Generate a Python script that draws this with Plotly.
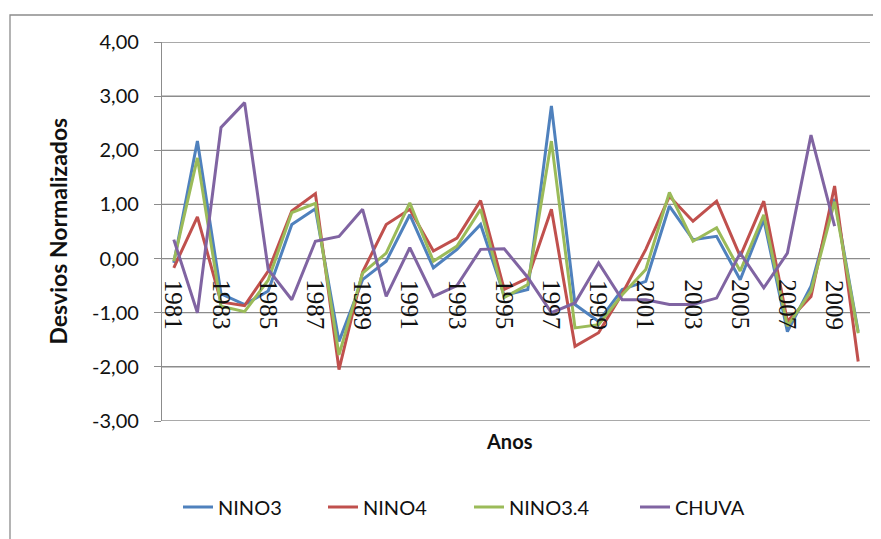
import plotly.graph_objects as go

years = list(range(1981, 2011))
nino3 = [-0.08, 2.17, -0.65, -0.85, -0.60, 0.63, 0.92, -1.53, -0.39, -0.05,
         0.81, -0.17, 0.17, 0.63, -0.68, -0.57, 2.82, -0.85, -1.16, -0.57,
         -0.42, 0.97, 0.35, 0.41, -0.39, 0.72, -1.35, -0.51, 1.10, -1.35]
nino4 = [-0.17, 0.77, -0.80, -0.87, -0.23, 0.88, 1.20, -2.05, -0.25, 0.63,
         0.91, 0.14, 0.38, 1.07, -0.57, -0.36, 0.91, -1.62, -1.37, -0.65,
         0.17, 1.15, 0.69, 1.06, 0.04, 1.06, -1.16, -0.70, 1.34, -1.90]
nino34 = [-0.05, 1.86, -0.88, -0.98, -0.40, 0.85, 1.02, -1.78, -0.27, 0.10,
          1.03, -0.05, 0.23, 0.91, -0.72, -0.48, 2.17, -1.28, -1.22, -0.67,
          -0.20, 1.22, 0.32, 0.57, -0.23, 0.81, -1.25, -0.60, 1.05, -1.38]
chuva = [0.35, -1.00, 2.42, 2.88, -0.20, -0.76, 0.32, 0.41, 0.91, -0.70,
         0.20, -0.70, -0.50, 0.17, 0.18, -0.35, -1.00, -0.82, -0.08, -0.76,
         -0.76, -0.85, -0.85, -0.73, 0.10, -0.54, 0.10, 2.28, 0.60, None]

series_names = ["NINO3", "NINO4", "NINO3.4", "CHUVA"]
series_colors = ["#4F81BD", "#C0504D", "#9BBB59", "#8064A2"]
legend_widths = [100, 101, 121, 80]

x_tick_years = list(range(1981, 2010, 2))
x_tick_text = [str(y) for y in x_tick_years]
y_tick_vals = [-3, -2, -1, 0, 1, 2, 3, 4]
y_tick_text = ["-3,00", "-2,00", "-1,00", "0,00", "1,00", "2,00", "3,00", "4,00"]

# page body has an 8px margin, so figure pixels = screen pixels - 8
OFF = 8
W, H = 881, 539
L, T = 162 - OFF, 42 - OFF
R = W - (870 - OFF)
B = H - (421 - OFF)
pw, ph = W - L - R, H - T - B

def px_x(p):
    return (p - OFF - L) / pw

def px_y(p):
    return (H - B - (p - OFF)) / ph

sans = "Lato, Liberation Sans, sans-serif"
serif = "Liberation Serif, Times New Roman, serif"
grid = "#8c8c8c"

fig = go.Figure()
for name, vals, col, lw in zip(series_names, [nino3, nino4, nino34, chuva],
                               series_colors, legend_widths):
    fig.add_trace(go.Scatter(x=years, y=vals, mode="lines", name=name,
                             line=dict(color=col, width=3), connectgaps=False,
                             legendwidth=lw))

annotations = [
    dict(text="<b>Desvios Normalizados</b>", xref="paper", yref="paper",
         x=px_x(57), y=0.5, textangle=-90, showarrow=False,
         font=dict(family=sans, size=23, color="#111"), xanchor="center", yanchor="middle"),
    dict(text="<b>Anos</b>", xref="paper", yref="paper",
         x=px_x(509), y=px_y(441), showarrow=False,
         font=dict(family=sans, size=20, color="#111"), xanchor="center", yanchor="middle"),
]
for yr, txt in zip(x_tick_years, x_tick_text):
    annotations.append(dict(text=txt, x=yr, y=0, xref="x", yref="y", textangle=90,
                            showarrow=False, xanchor="center", yanchor="top", yshift=-20,
                            borderpad=0,
                            font=dict(family=serif, size=25, color="#111")))

shapes = [dict(type="line", xref="paper", yref="y", x0=0, x1=1, y0=v, y1=v,
               line=dict(color=grid, width=1.3), layer="below")
          for v in y_tick_vals]
shapes.append(dict(type="rect", xref="paper", yref="paper",
                   x0=px_x(10), x1=px_x(884), y0=px_y(545), y1=px_y(15),
                   line=dict(color=grid, width=1.3), fillcolor="rgba(0,0,0,0)",
                   layer="above"))

fig.update_layout(
    template="none",
    width=W, height=H,
    margin=dict(l=L, r=R, t=T, b=B, pad=0, autoexpand=False),
    paper_bgcolor="white", plot_bgcolor="white",
    showlegend=True,
    legend=dict(orientation="h", x=px_x(178), y=px_y(507), xanchor="left", yanchor="middle",
                font=dict(family=sans, size=20, color="#111"),
                itemwidth=30, tracegroupgap=0),
    xaxis=dict(range=[1980.5, 2010.5], showticklabels=False,
               showgrid=False, zeroline=False, showline=False, ticks=""),
    yaxis=dict(range=[-3, 4], tickmode="array", tickvals=y_tick_vals, ticktext=y_tick_text,
               showgrid=True, gridcolor=grid, gridwidth=1, zeroline=False,
               showline=True, linecolor=grid, linewidth=1.3,
               ticks="outside", ticklen=7, tickcolor=grid, tickwidth=1.3,
               automargin=False, ticklabelstandoff=11,
               tickfont=dict(family=sans, size=20, color="#111")),
    shapes=shapes,
    annotations=annotations,
)

fig.write_html("out.html")
